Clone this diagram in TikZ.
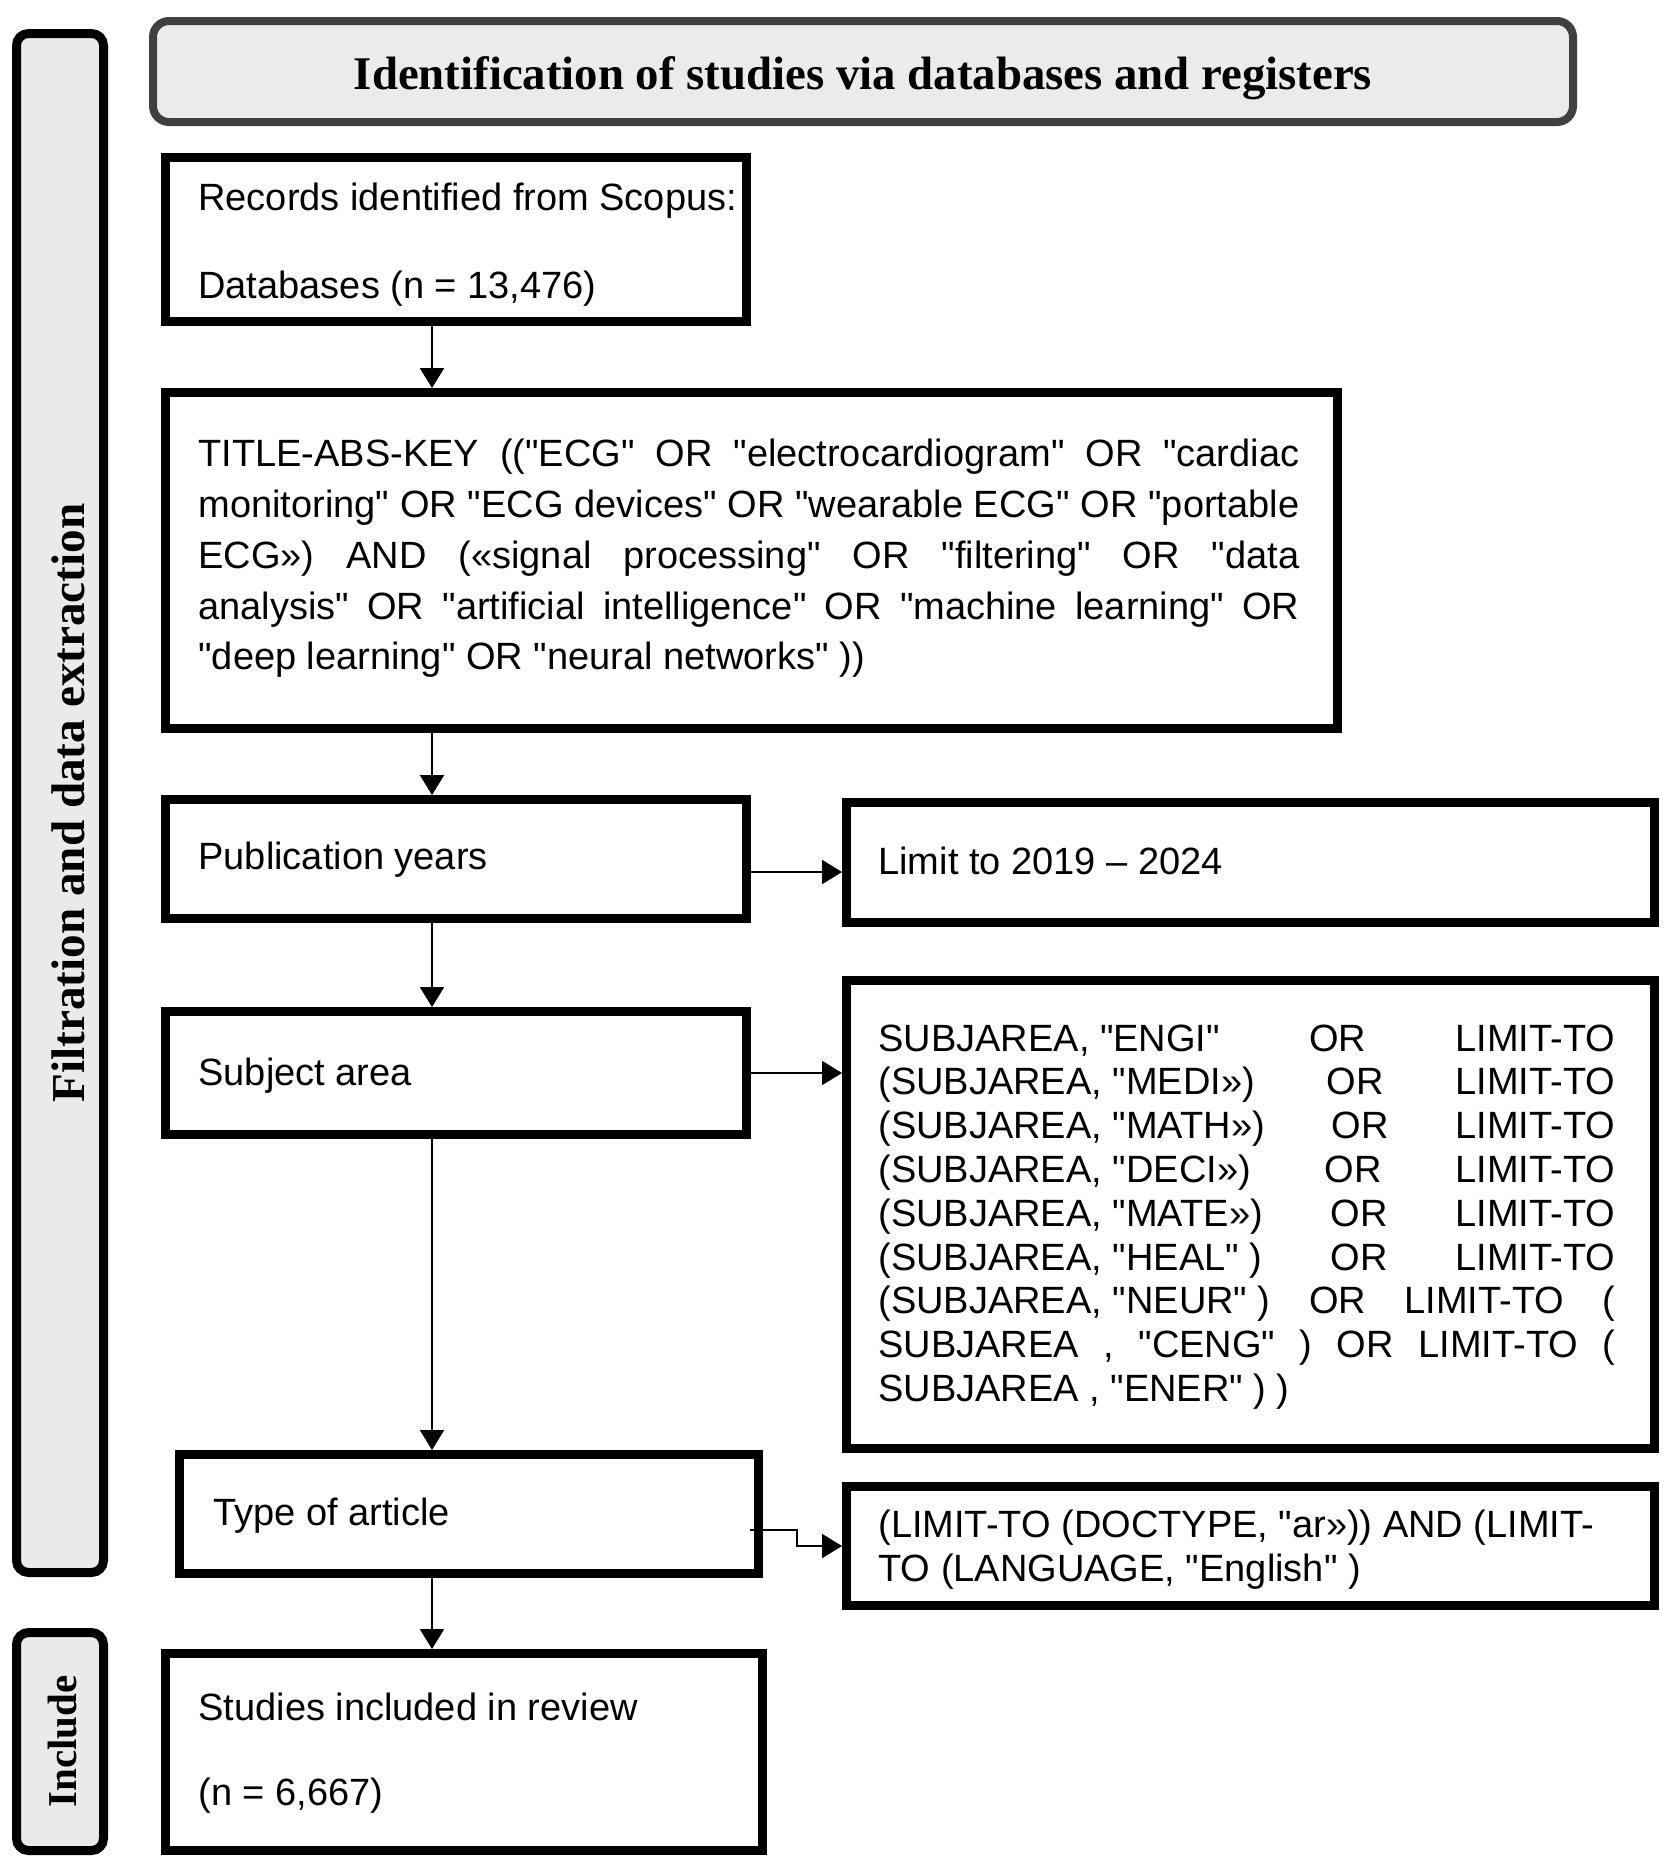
\documentclass[tikz,border=0pt]{standalone}
\usepackage{fontspec}
\setmainfont{Liberation Sans}
\newfontfamily\plainsans{Liberation Sans}
\newfontfamily\headfont{Liberation Serif}
\usetikzlibrary{arrows.meta}
\definecolor{sidefill}{HTML}{EAEAEA}
\definecolor{titlefill}{HTML}{EBEBEB}
\definecolor{titleline}{HTML}{404040}
\newcommand\mainsz{\plainsans\fontsize{19}{22}\selectfont}
\begin{document}
\begin{tikzpicture}[x=0.5pt,y=-0.5pt,
  box/.style={draw=black, line width=4.5pt, fill=white, inner sep=0pt, rectangle},
  side/.style={draw=black, line width=4.5pt, fill=sidefill, rounded corners=6pt, inner sep=0pt},
  txt/.style={inner sep=0pt, anchor=west, font=\mainsz},
  vlab/.style={rotate=90, inner sep=0pt},
  arr/.style={line width=1.1pt, -{Triangle[length=10pt,width=12pt]}},
]
\useasboundingbox (0,0) rectangle (1665,1864);

% title
\node[draw=titleline, line width=4pt, fill=titlefill, rounded corners=8pt,
      minimum width=710pt, minimum height=50.5pt, inner sep=0pt] (title) at (863,71.5) {};
\node[inner sep=0pt, font=\headfont\bfseries\fontsize{23.4}{27}\selectfont] (ttext) at (863,78.5)
      {Identification of studies via databases and registers};

% side bars
\node[side, minimum width=43.5pt, minimum height=769.5pt] (fside) at (60,803) {};
\node[vlab, font=\headfont\bfseries\fontsize{23.6}{28}\selectfont] (ftext) at (68,803) {Filtration and data extraction};
\node[side, minimum width=43.5pt, minimum height=109pt] (iside) at (60,1741.5) {};
\node[vlab, font=\headfont\bfseries\fontsize{20.5}{24}\selectfont] (itext) at (63,1741.5) {Include};

% boxes
\node[box, minimum width=290.5pt, minimum height=82pt] (b1) at (456,239.5) {};
\node[box, minimum width=586pt, minimum height=168pt] (b2) at (751.5,560.5) {};
\node[box, minimum width=290.5pt, minimum height=59.5pt] (b3) at (456,859) {};
\node[box, minimum width=404pt, minimum height=60pt] (lim) at (1250.5,862.5) {};
\node[box, minimum width=290.5pt, minimum height=61.5pt] (b4) at (456,1073) {};
\node[box, minimum width=404pt, minimum height=234pt] (sub) at (1250.5,1214.5) {};
\node[box, minimum width=289.5pt, minimum height=59.5pt] (b5) at (469,1514) {};
\node[box, minimum width=404pt, minimum height=59.5pt] (doc) at (1250.5,1546) {};
\node[box, minimum width=298.5pt, minimum height=98.5pt] (b6) at (464,1752) {};

% texts
\node[txt] (t1a) at (198,201) {Records identified from Scopus:};
\node[txt] (t1b) at (198,289) {Databases (n = 13,476)};
\node[txt, text width=550.5pt, align=justify, font=\plainsans\fontsize{19}{25.4}\selectfont] (t2) at (198,558.5)
 {TITLE-ABS-KEY (("ECG" OR "electrocardiogram" OR "cardiac\linebreak
  monitoring" OR "ECG devices" OR "wearable ECG" OR "portable\linebreak
  ECG») AND («signal processing" OR "filtering" OR "data\linebreak
  analysis" OR "artificial intelligence" OR "machine learning" OR\linebreak
  "deep learning" OR "neural networks" ))};
\node[txt] (t3) at (198,860) {Publication years};
\node[txt] (tl) at (878,861) {Limit to 2019 – 2024};
\node[txt] (t4) at (198,1076) {Subject area};
\node[txt, text width=368.5pt, align=justify, font=\plainsans\fontsize{19}{21.9}\selectfont] (ts) at (878,1217)
 {\mbox{SUBJAREA, "ENGI"} OR LIMIT-TO\linebreak
  \mbox{(SUBJAREA, "MEDI»)} OR LIMIT-TO\linebreak
  \mbox{(SUBJAREA, "MATH»)} OR LIMIT-TO\linebreak
  \mbox{(SUBJAREA, "DECI»)} OR LIMIT-TO\linebreak
  \mbox{(SUBJAREA, "MATE»)} OR LIMIT-TO\linebreak
  \mbox{(SUBJAREA, "HEAL" )} OR LIMIT-TO\linebreak
  \mbox{(SUBJAREA, "NEUR" )} OR LIMIT-TO (\linebreak
  SUBJAREA , "CENG" ) OR LIMIT-TO (\linebreak
  SUBJAREA , "ENER" ) )};
\node[txt] (t5) at (213,1516) {Type of article};
\node[txt, align=left, font=\plainsans\fontsize{19}{22}\selectfont] (td) at (878,1550)
 {(LIMIT-TO (DOCTYPE, "ar»)) AND (LIMIT-\\TO (LANGUAGE, "English" )};
\node[txt] (t6a) at (198,1707) {Studies included in review};
\node[txt] (t6b) at (198,1796) {(n = 6,667)};

% connectors
\coordinate (ax) at (432,0);
\draw[arr] (b1.south -| ax) -- (b2.north -| ax);
\draw[arr] (b2.south -| ax) -- (b3.north -| ax);
\draw[arr] (b3.south -| ax) -- (b4.north -| ax);
\draw[arr] (b4.south -| ax) -- (b5.north -| ax);
\draw[arr] (b5.south -| ax) -- (b6.north -| ax);
\coordinate (h1) at (0,872);
\draw[arr] (b3.east |- h1) -- (lim.west |- h1);
\draw[arr] (b4.east) -- (sub.west |- b4.east);
\coordinate (s1) at (0,1530);
\coordinate (s2) at (797,1546);
\draw[arr] ([xshift=-6.5pt]b5.east |- s1) -| (s2) -- (doc.west |- s2);
\end{tikzpicture}
\end{document}
